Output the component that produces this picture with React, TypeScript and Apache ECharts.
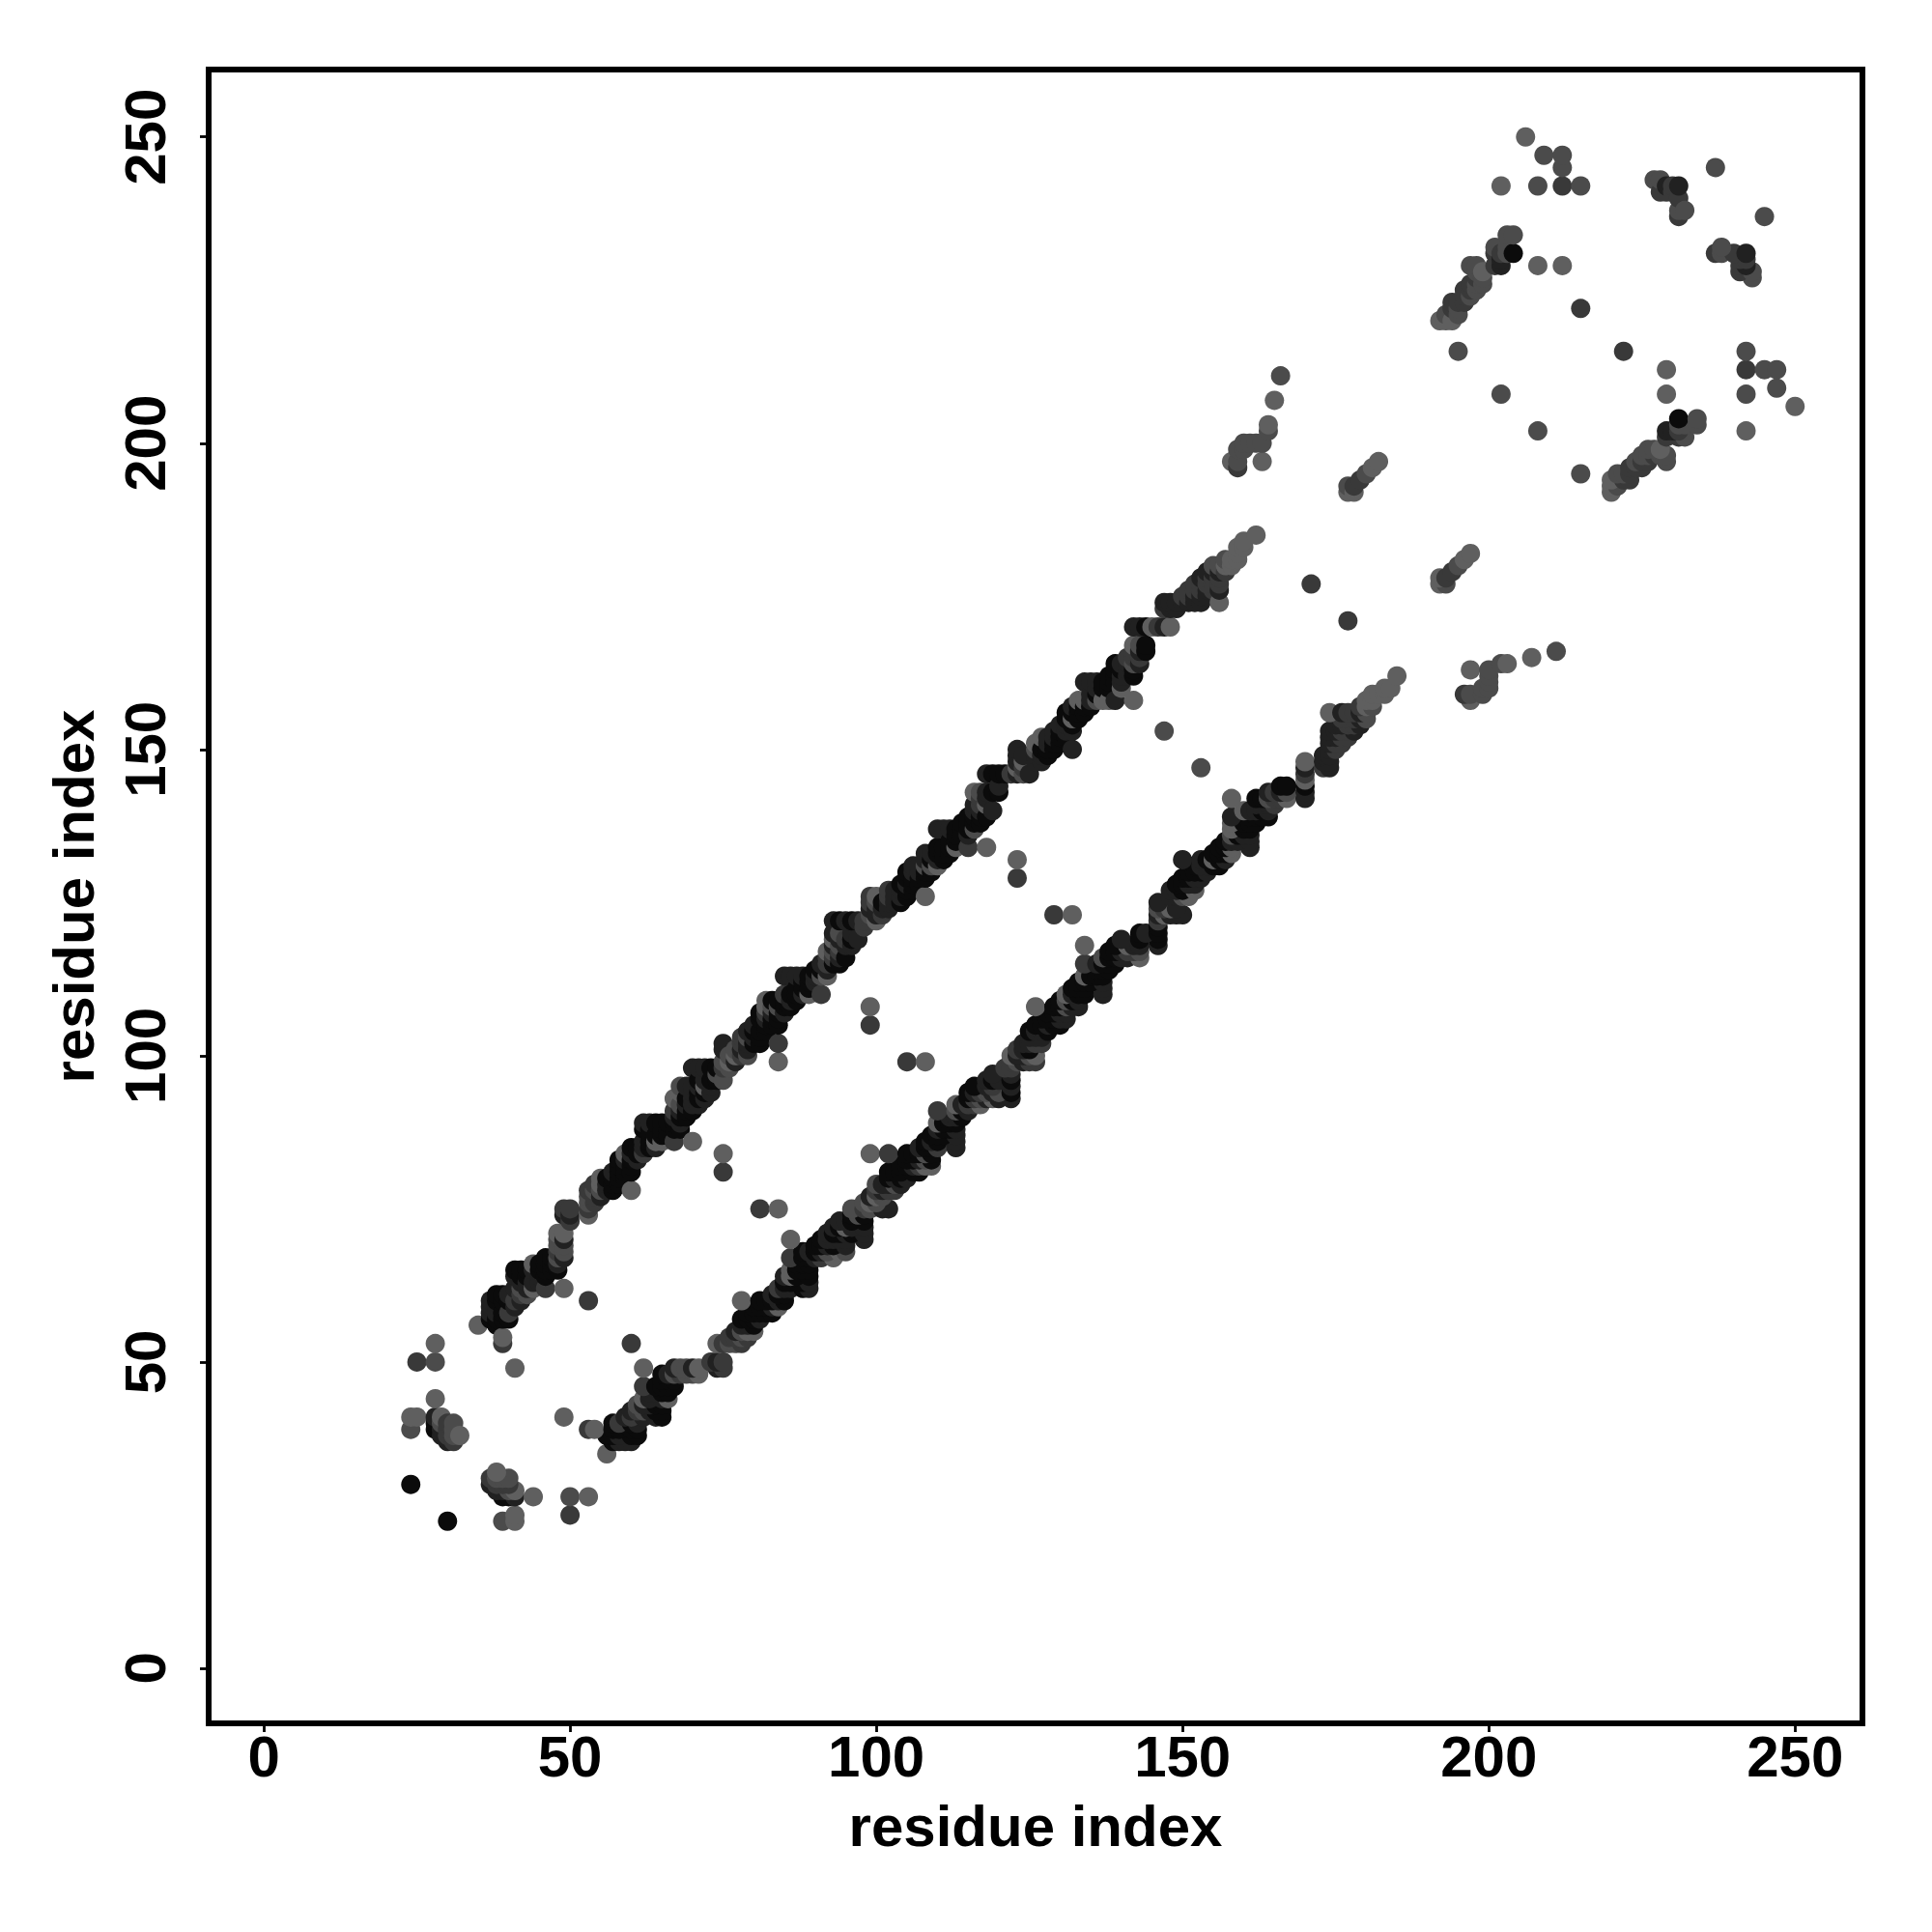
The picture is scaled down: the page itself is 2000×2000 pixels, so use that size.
import React, { useEffect, useRef } from "react";
import * as echarts from "echarts";

const FONT = '"Liberation Sans", Arial, sans-serif';
const axisTitle = "residue index";
const tickValues = [0, 50, 100, 150, 200, 250];
const shadeColors = ["#0b0b0b", "#212121", "#393939", "#4b4b4b", "#5f5f5f"];

// Each row: [residue i, residue j, shade index]; the map is symmetric, so only i < j is listed.
const cornerContacts = [
  [24,30,0],[24,39,3],[24,41,4],[25,41,4],[25,50,2],[28,39,0],[28,40,0],[28,41,1],[28,44,4],[28,50,3],[28,53,4],
  [29,38,1],[29,39,1],[29,40,3],[29,41,4],[30,37,1],[30,38,2],[30,39,2],[30,40,2],[31,37,2],[31,38,3],[31,39,3],[31,40,3],[32,38,4],
];
const bandContactsA = [
  [35,56,4],[37,57,0],[37,58,1],[37,59,1],[37,60,1],[38,56,0],[38,57,0],[38,58,1],[38,60,0],[38,61,0],
  [39,53,2],[39,54,4],[39,57,0],[39,58,0],[39,60,0],[39,61,0],[40,57,0],[40,58,2],[40,60,0],[40,61,1],
  [41,49,4],[41,59,1],[41,60,2],[41,62,1],[41,64,1],[41,65,0],[42,60,1],[42,61,2],[42,62,3],[42,63,1],[42,64,0],[42,65,0],
  [43,61,3],[43,62,1],[43,63,1],[43,64,0],[43,65,0],[44,62,4],[44,63,1],[44,65,1],[44,66,4],[45,63,1],[45,64,1],[45,65,0],[45,66,0],
  [46,62,2],[46,64,0],[46,65,0],[46,66,0],[46,67,0],[47,65,0],[47,66,0],[47,67,0],
  [48,65,0],[48,66,1],[48,67,3],[48,68,2],[48,69,3],[48,70,3],[48,71,4],[49,62,4],[49,67,1],[49,68,3],[49,69,3],[49,70,1],[49,71,4],[49,74,1],[49,75,2],
  [50,73,2],[50,74,1],[50,75,2],[53,60,2],[53,74,4],[53,75,2],[53,76,3],[53,77,3],[53,78,2],
  [54,76,2],[54,77,2],[54,78,3],[54,79,2],[55,77,1],[55,78,3],[55,79,4],[55,80,4],[56,78,1],[56,79,1],[56,80,0],
  [57,78,0],[57,79,0],[57,80,0],[57,81,1],[58,79,0],[58,80,0],[58,81,0],[58,82,0],[58,83,0],
  [59,80,0],[59,81,0],[59,82,0],[59,83,1],[59,84,4],[60,78,4],[60,81,0],[60,82,0],[60,83,0],[60,84,1],[60,85,0],
  [61,83,1],[61,84,0],[61,85,0],[62,84,2],[62,85,1],[62,86,1],[62,88,0],[62,89,1],[63,85,0],[63,86,0],[63,88,0],[63,89,1],
  [64,85,1],[64,86,4],[64,87,0],[64,89,0],[65,86,4],[65,87,0],[65,88,0],[65,89,0],[66,87,0],[66,88,0],[66,89,0],
  [67,86,2],[67,88,0],[67,89,0],[67,90,1],[67,91,2],[67,93,4],[68,88,0],[68,89,1],[68,90,0],[68,91,1],[68,92,3],[68,94,4],[68,95,3],
  [69,90,0],[69,91,0],[69,92,1],[69,93,0],[69,95,1],[70,86,4],[70,91,0],[70,92,1],[70,93,1],[70,94,1],[70,95,1],[70,98,1],
  [71,92,1],[71,93,0],[71,94,0],[71,95,1],[71,96,0],[71,98,1],[72,93,1],[72,94,0],[72,95,4],[72,96,1],[72,98,1],
  [73,94,1],[73,95,1],[73,96,0],[73,98,0],[74,96,0],[74,97,3],[74,98,0],[75,81,2],[75,84,4],[75,96,3],[75,98,2],[75,99,3],[75,101,1],[75,102,1],
  [76,98,3],[76,99,4],[76,100,3],[77,99,1],[77,100,4],[77,101,3],[78,100,2],[78,101,1],[78,102,2],[78,103,2],
  [79,100,3],[79,101,1],[79,102,1],[79,103,3],[79,104,1],[80,102,0],[80,103,1],[80,104,0],[80,105,1],
];
const bandContactsB = [
  [81,102,0],[81,103,0],[81,104,0],[81,106,0],[81,107,0],[82,104,0],[82,105,0],[82,106,1],[82,107,2],[82,108,4],[82,109,4],
  [83,105,0],[83,106,0],[83,107,1],[83,108,3],[83,109,0],[84,99,4],[84,102,2],[84,105,0],[84,106,0],[84,107,0],[84,108,3],[84,109,0],
  [85,107,1],[85,108,0],[85,109,0],[85,110,2],[85,113,1],[86,108,0],[86,109,1],[86,110,0],[86,113,1],[87,109,0],[87,110,0],[87,111,0],[87,113,1],
  [88,110,1],[88,111,0],[88,112,0],[88,113,1],[89,110,4],[89,111,0],[89,112,0],[89,113,0],[90,112,1],[90,113,1],[90,114,0],
  [91,110,2],[91,113,3],[91,114,0],[91,115,1],[92,113,4],[92,114,1],[92,115,2],[92,116,2],[92,117,4],
  [93,115,0],[93,116,2],[93,117,3],[93,118,1],[93,119,4],[93,120,1],[93,122,1],[94,115,0],[94,116,1],[94,117,2],[94,118,3],[94,119,1],[94,120,3],[94,122,0],
  [95,116,0],[95,118,1],[95,119,2],[95,122,1],[96,118,1],[96,119,0],[96,120,1],[96,122,0],[97,119,1],[97,122,1],[98,121,2],[98,122,2],
  [99,105,2],[99,108,4],[99,122,2],[99,123,3],[99,124,1],[99,125,2],[99,126,2],[100,122,4],[100,123,1],[100,124,1],[100,125,3],[100,126,4],
  [101,123,2],[101,124,1],[101,125,0],[102,124,1],[102,125,1],[102,126,2],[102,127,2],[103,125,1],[103,126,1],[103,127,1],
  [104,125,0],[104,126,1],[104,127,1],[104,128,0],[105,126,0],[105,127,0],[105,128,1],[105,129,0],[105,130,0],
  [106,127,0],[106,128,0],[106,129,0],[106,130,1],[106,131,1],[107,128,0],[107,129,0],[107,130,1],[107,131,1],
  [108,126,4],[108,129,0],[108,130,0],[108,131,3],[108,132,1],[108,133,1],[109,130,0],[109,131,3],[109,132,0],[109,133,1],
  [110,131,4],[110,132,1],[110,133,0],[110,134,0],[110,137,1],[111,132,0],[111,133,0],[111,134,0],[111,137,1],
  [112,133,0],[112,134,0],[112,135,0],[112,137,1],[113,134,4],[113,135,0],[113,136,0],[113,137,0],[114,136,0],[114,137,0],[114,138,0],
  [115,134,2],[115,136,1],[115,137,0],[115,138,0],[115,139,0],[116,137,3],[116,138,0],[116,139,0],[116,140,1],[116,141,1],[116,143,4],
  [117,138,0],[117,139,0],[117,140,1],[117,141,2],[117,142,2],[117,143,3],[118,134,4],[118,139,0],[118,141,4],[118,142,1],[118,143,1],[118,146,1],
  [119,140,1],[119,143,0],[119,146,0],[120,143,0],[120,144,1],[120,146,0],[121,146,0],[122,146,2],
];
const bandContactsC = [
  [123,129,2],[123,132,4],[123,146,1],[123,147,4],[123,148,1],[123,149,1],[123,150,1],[124,146,3],[124,147,2],[124,148,4],[124,149,1],[125,146,1],
  [126,148,1],[126,149,1],[126,150,3],[126,151,4],[127,148,1],[127,149,1],[127,150,0],[127,152,4],[128,149,0],[128,150,0],[128,151,1],[128,152,1],
  [129,150,0],[129,151,0],[129,152,1],[129,153,1],[130,151,0],[130,152,0],[130,153,0],[130,154,1],[131,152,0],[131,153,1],[131,154,1],[131,155,0],[131,156,0],
  [132,150,1],[132,153,1],[132,154,0],[132,155,4],[132,156,0],[132,157,1],[133,155,0],[133,156,0],[133,157,0],[133,158,4],
  [134,156,0],[134,157,0],[134,158,4],[134,161,1],[135,157,0],[135,158,1],[135,159,1],[135,161,1],[136,158,3],[136,159,0],[136,160,1],[136,161,1],
  [137,158,4],[137,160,0],[137,161,0],[138,158,4],[138,160,0],[138,161,0],[138,162,0],[139,158,1],[139,161,0],[139,162,0],[139,163,0],[139,164,0],
  [140,160,4],[140,161,1],[140,162,1],[140,163,0],[140,164,1],[141,162,1],[141,163,1],[141,164,1],[141,165,2],
  [142,158,4],[142,162,0],[142,163,0],[142,164,3],[142,165,2],[142,166,2],[142,167,4],[142,170,1],[143,164,1],[143,165,2],[143,166,1],[143,167,3],[143,170,1],
  [144,166,0],[144,167,0],[144,170,0],[145,170,4],[146,170,2],[147,153,3],[147,170,1],[147,173,2],[147,174,1],[148,170,4],[148,173,1],[148,174,1],
  [149,173,1],[149,174,1],[150,174,1],[150,175,2],[151,174,1],[151,175,2],[151,176,2],[152,174,1],[152,175,1],[152,176,2],[152,177,2],
  [153,174,1],[153,175,1],[153,176,2],[153,177,2],[153,178,1],[154,175,1],[154,176,1],[154,177,2],[154,178,2],[154,179,1],
  [155,176,2],[155,177,2],[155,178,2],[155,179,1],[155,180,3],[156,174,4],[156,176,1],[156,177,2],[156,178,2],[156,179,1],[156,180,3],
  [157,179,2],[157,180,4],[157,181,3],[158,180,4],[158,181,4],[159,181,4],[159,182,4],[159,183,4],[160,183,4],[160,184,4],[162,185,4],
];
const upperContacts = [
  [158,197,4],[159,196,2],[159,197,3],[159,199,3],[160,199,3],[160,200,3],[161,200,3],[162,200,3],[163,197,4],[163,200,3],[164,202,3],[164,203,4],[165,207,4],[166,211,3],
  [171,177,2],[177,192,4],[177,193,3],[178,192,4],[178,193,2],[179,194,2],[180,195,3],[181,196,4],[182,197,4],
  [192,220,4],[193,220,4],[193,221,3],[194,220,4],[194,222,2],[194,223,2],[195,215,3],[195,221,3],[195,222,3],[195,223,2],
  [196,223,2],[196,224,2],[196,225,2],[197,224,3],[197,225,2],[197,226,2],[197,229,3],[198,225,3],[198,226,3],[198,227,2],[198,228,3],[198,229,3],
  [199,226,3],[199,227,3],[199,228,4],[201,229,2],[201,231,2],[201,232,3],[202,208,3],[202,229,1],[202,230,1],[202,231,2],[202,242,4],
  [203,231,3],[203,232,3],[203,234,3],[204,231,0],[204,234,3],[206,250,4],[208,229,4],[208,242,3],[209,247,3],[212,229,4],[212,242,2],[212,245,3],[212,247,3],
  [215,222,2],[215,242,3],[227,243,3],[228,241,2],[228,243,3],[229,241,2],[229,242,1],[230,241,2],[230,242,2],[231,237,2],[231,238,3],[231,240,2],[231,242,1],[232,238,3],[237,245,3],
];

const contacts = [...cornerContacts, ...bandContactsA, ...bandContactsB, ...bandContactsC, ...upperContacts];

export default function App() {
  const ref = useRef<HTMLDivElement>(null);
  useEffect(() => {
    const chart = echarts.init(ref.current!, undefined, { renderer: "svg" });
    const point = (x: number, y: number, shade: number) => ({
      value: [x, y],
      itemStyle: { color: shadeColors[shade] },
    });
    const data = [
      ...contacts.map(([i, j, s]) => point(j, i, s)),
      ...contacts.map(([i, j, s]) => point(i, j, s)),
    ];
    const axisBase = {
      type: "value" as const,
      min: -9,
      max: 261,
      name: axisTitle,
      nameLocation: "middle" as const,
      nameTextStyle: { fontFamily: FONT, fontWeight: "bold" as const, fontSize: 60, color: "#000" },
      splitLine: { show: false },
      axisLine: { show: false, onZero: false },
      axisTick: { show: true, length: 9, customValues: tickValues, lineStyle: { color: "#000", width: 2.8 } },
    };
    const labelBase = {
      show: true,
      customValues: tickValues,
      fontFamily: FONT,
      fontWeight: "bold" as const,
      fontSize: 60,
      color: "#000",
    };
    chart.setOption({
      animation: false,
      backgroundColor: "#fff",
      grid: { show: true, left: 216, top: 72, width: 1712, height: 1712, borderColor: "#000", borderWidth: 6, backgroundColor: "transparent" },
      xAxis: { ...axisBase, nameGap: 76, axisLabel: { ...labelBase, margin: 4 } },
      yAxis: { ...axisBase, nameGap: 110, nameRotate: 90, axisLabel: { ...labelBase, rotate: 90, margin: 36 } },
      series: [
        { type: "scatter", symbol: "circle", symbolSize: 20, data, clip: false, itemStyle: { opacity: 1 } },
      ],
    });
    return () => chart.dispose();
  }, []);
  return <div ref={ref} style={{ position: "absolute", left: 0, top: 0, width: 2000, height: 2000 }} />;
}
